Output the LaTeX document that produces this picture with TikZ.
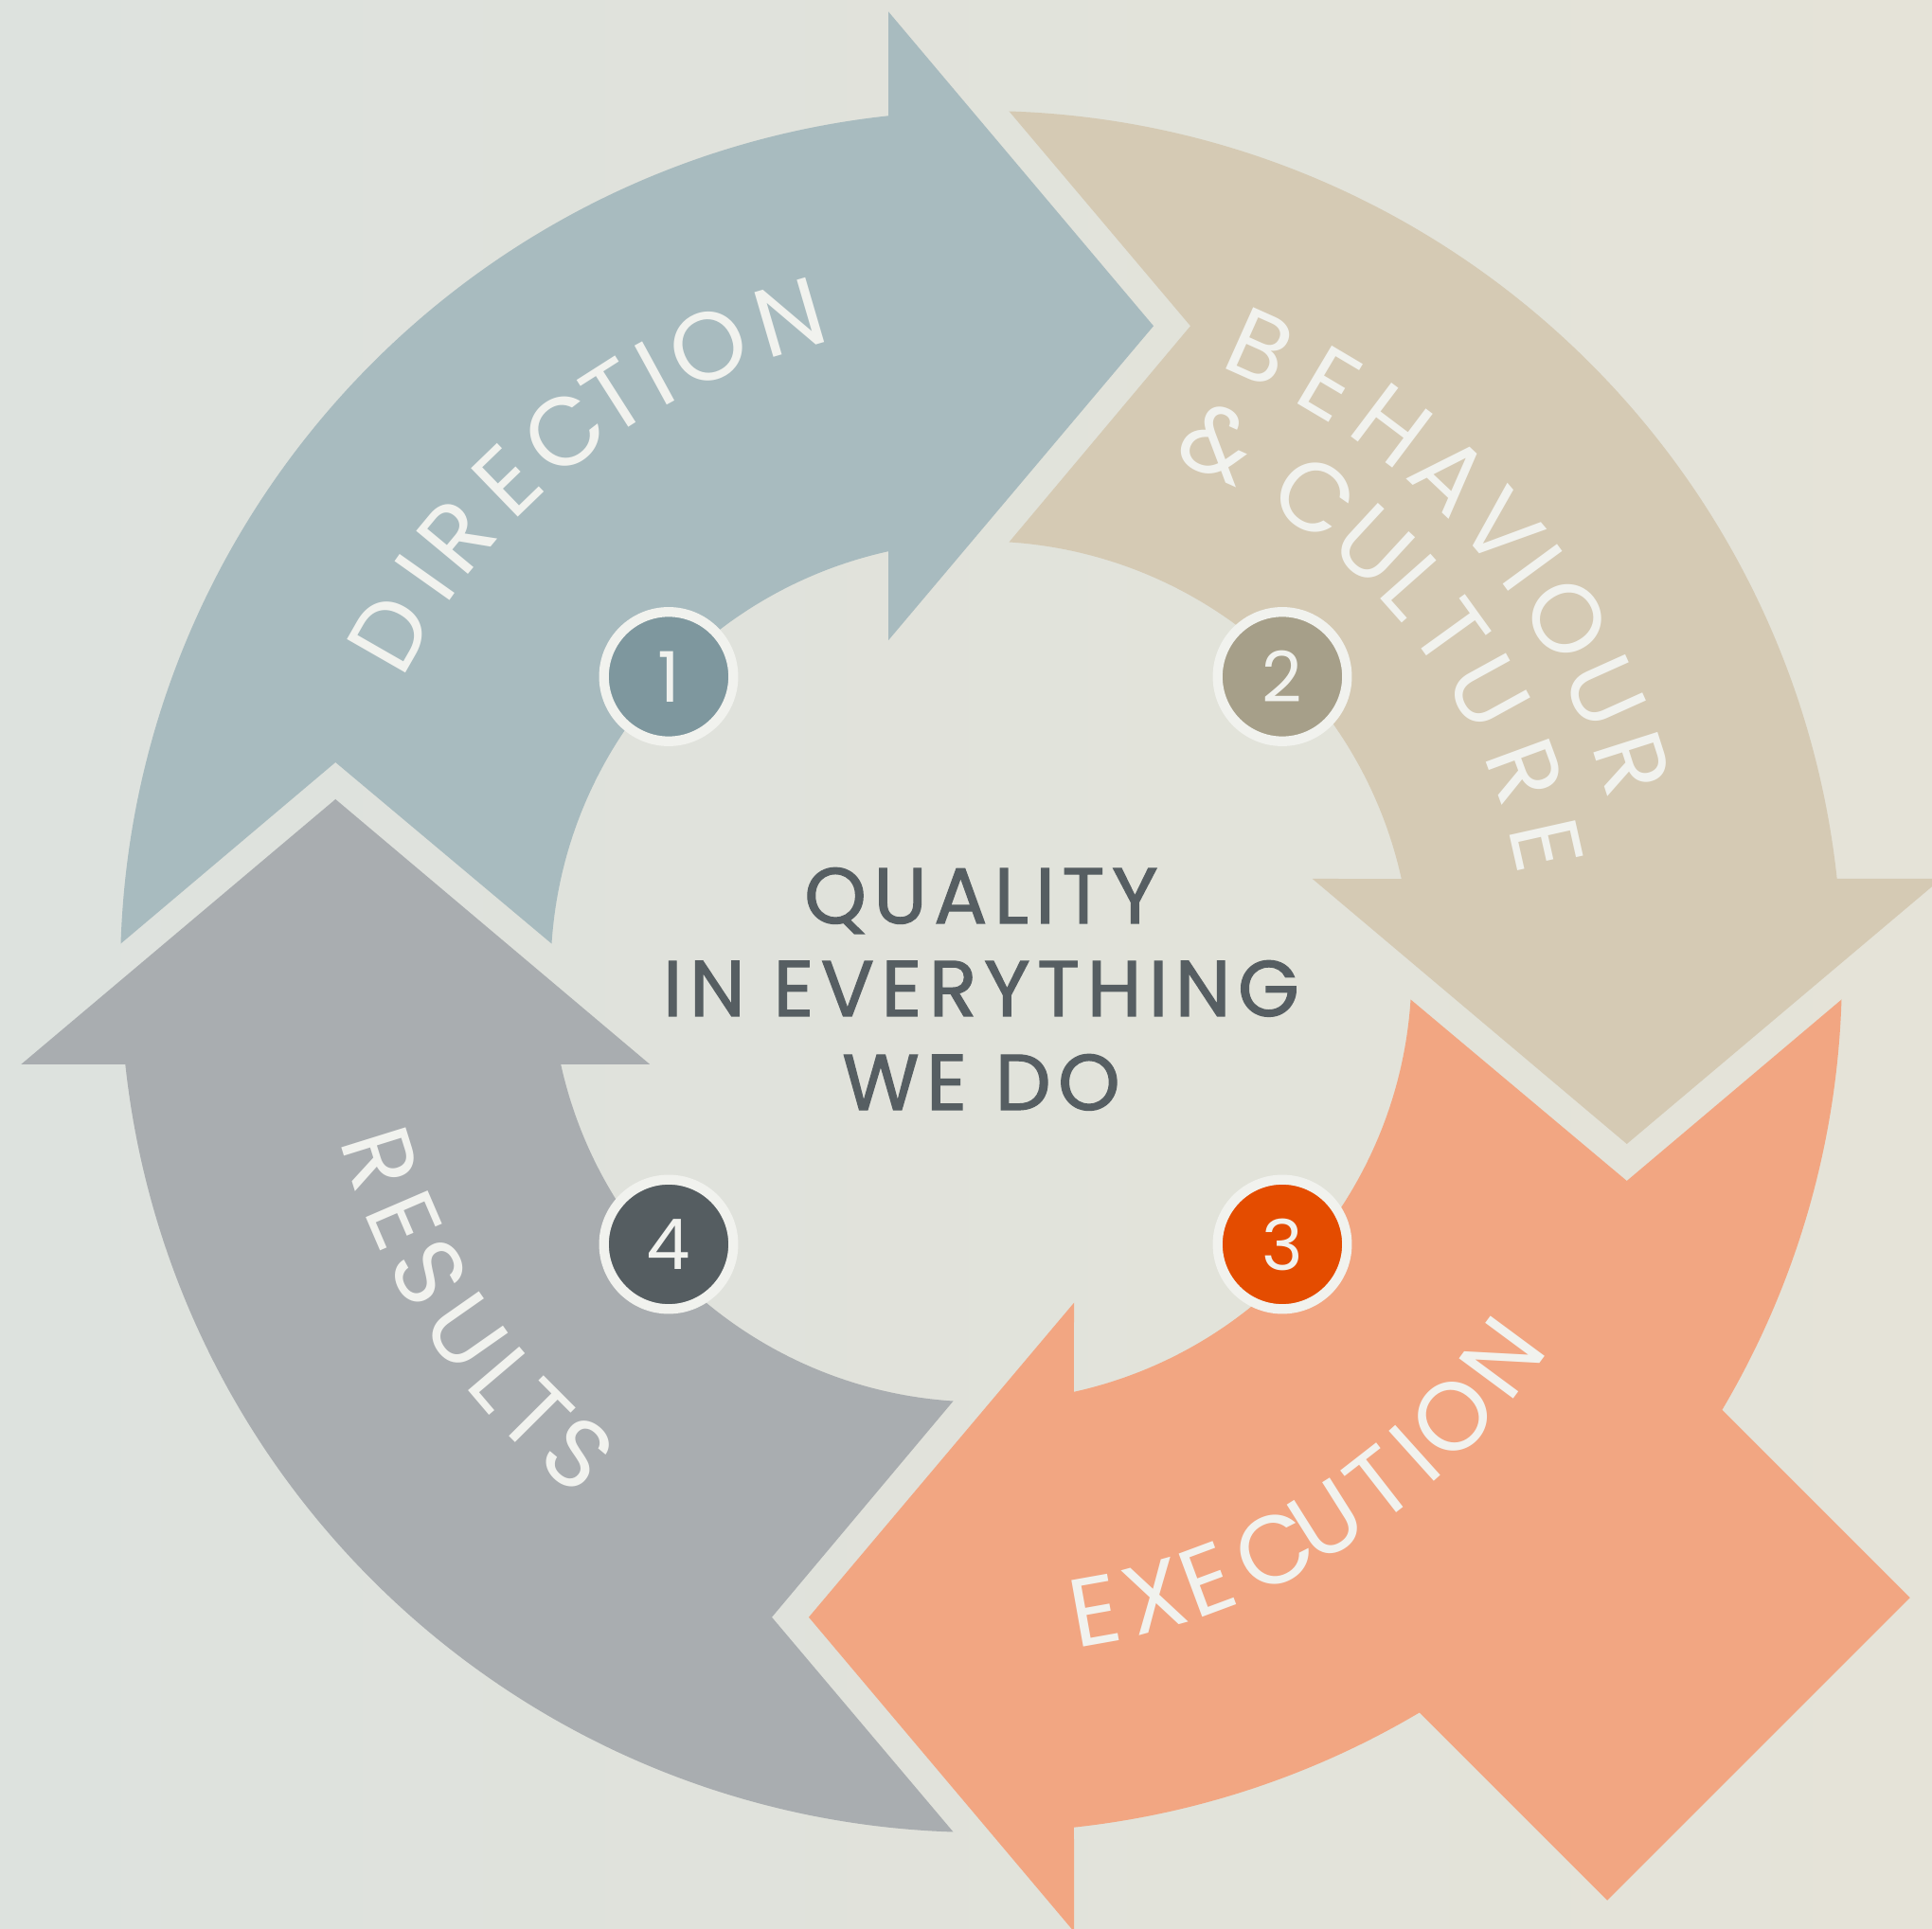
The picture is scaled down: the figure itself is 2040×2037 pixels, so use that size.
\documentclass[tikz,border=0pt]{standalone}
\usepackage{fontspec}
\setmainfont{Poppins}
\newfontfamily\heavyfont{Poppins}[FakeBold=1.5, LetterSpace=9]
\usetikzlibrary{positioning}

\definecolor{bg_l}{HTML}{DDE2DE}
\definecolor{bg_r}{HTML}{E5E3D8}
\definecolor{c_dir}{HTML}{A8BBBF}
\definecolor{c_beh}{HTML}{D5CAB4}
\definecolor{c_exe}{HTML}{F2A682}
\definecolor{c_res}{HTML}{A9ADB0}
\definecolor{n_dir}{HTML}{7E979E}
\definecolor{n_beh}{HTML}{A69F89}
\definecolor{n_exe}{HTML}{E44C00}
\definecolor{n_res}{HTML}{555D61}
\definecolor{offwhite}{HTML}{F1F2EE}
\definecolor{inkgrey}{HTML}{565E62}

\tikzset{
  num_n/.style = {circle, draw=offwhite, line width=2.93pt,
    minimum size=1.365cm, inner sep=0pt, text=offwhite,
    font=\fontsize{21}{21}\selectfont},% numbered disc
  lbl_o/.style = {inner sep=0pt, text=offwhite,
    font=\fontsize{29}{29}\selectfont},% one letter on the ring
  mid_t/.style = {inner sep=0pt, text=inkgrey, anchor=base,
    font=\heavyfont\fontsize{23.7}{23.7}\selectfont}% centre text
}
% quarter ring arrow, tail at the left, head at the top
\newcommand{\quartarrow}{(178.14:909)
  arc[start angle=178.14, end angle=96.19, radius=909]
  -- (-98,1013.75) -- (182,681.75) -- (-98,349.75) -- (102.45:454.5)
  arc[start angle=102.45, end angle=176.28, radius=454.5]
  -- (-681.75,221) -- cycle}

\begin{document}
\begin{tikzpicture}[x=0.01cm, y=0.01cm]
  \useasboundingbox (-1036,-1011) rectangle (1004,1026);
  \shade[left color=bg_l, right color=bg_r] (-1036,-1011) rectangle (1004,1026);

  \fill[c_dir] \quartarrow;
  \begin{scope}[rotate=-90] \fill[c_beh] \quartarrow; \end{scope}
  \begin{scope}[rotate=180] \fill[c_exe] \quartarrow; \end{scope}
  \begin{scope}[rotate=90]  \fill[c_res] \quartarrow; \end{scope}
  \begin{scope}[rotate=-45] \fill[c_exe] (880,-226) rectangle (1161,226); \end{scope}

  % letters along the ring
  \foreach \ch/\ang [count=\i] in {D/150.2, I/144.7, R/140.3, E/134.0, C/127.7,
      T/122.5, I/118.6, O/113.6, N/106.3}
    \node[lbl_o, rotate=\ang-90] (dir\i) at (\ang:720) {\ch};
  \foreach \ch/\ang [count=\i] in {B/65.9, E/59.3, H/53.0, A/46.6, V/40.4,
      I/36.2, O/31.1, U/24.2, R/17.7}
    \node[lbl_o, rotate=\ang-90] (beh\i) at (\ang:722) {\ch};
  \foreach \ch/\ang [count=\i] in {\&/65.8, C/54.9, U/47.3, L/41.6, T/35.8,
      U/28.8, R/20.2, E/12.6}
    \node[lbl_o, rotate=\ang-90] (cul\i) at (\ang:612) {\ch};
  \foreach \ch/\ang [count=\i] in {E/-79.9, X/-74.5, E/-69.6, C/-63.1, U/-57.8,
      T/-52.1, I/-48.0, O/-43.3, N/-36.5}
    \node[lbl_o, rotate=\ang+90] (exe\i) at (\ang:685) {\ch};
  \foreach \ch/\ang [count=\i] in {R/197.3, E/203.3, S/208.6, U/215.0, L/220.4,
      T/224.9, S/230.1}
    \node[lbl_o, rotate=\ang+90] (res\i) at (\ang:664) {\ch};

  \node[num_n, fill=n_dir] (n1) at (-330,311.5) {1};
  \node[num_n, fill=n_beh] (n2) at (318,311.5) {2};
  \node[num_n, fill=n_exe] (n3) at (318,-288) {3};
  \node[num_n, fill=n_res] (n4) at (-330,-288) {4};

  \node[mid_t] (mid_a) at (0,51) {QUALITY};
  \node[mid_t] (mid_b) at (0,-47) {IN EVERYTHING};
  \node[mid_t] (mid_c) at (0,-146) {WE DO};
\end{tikzpicture}
\end{document}
